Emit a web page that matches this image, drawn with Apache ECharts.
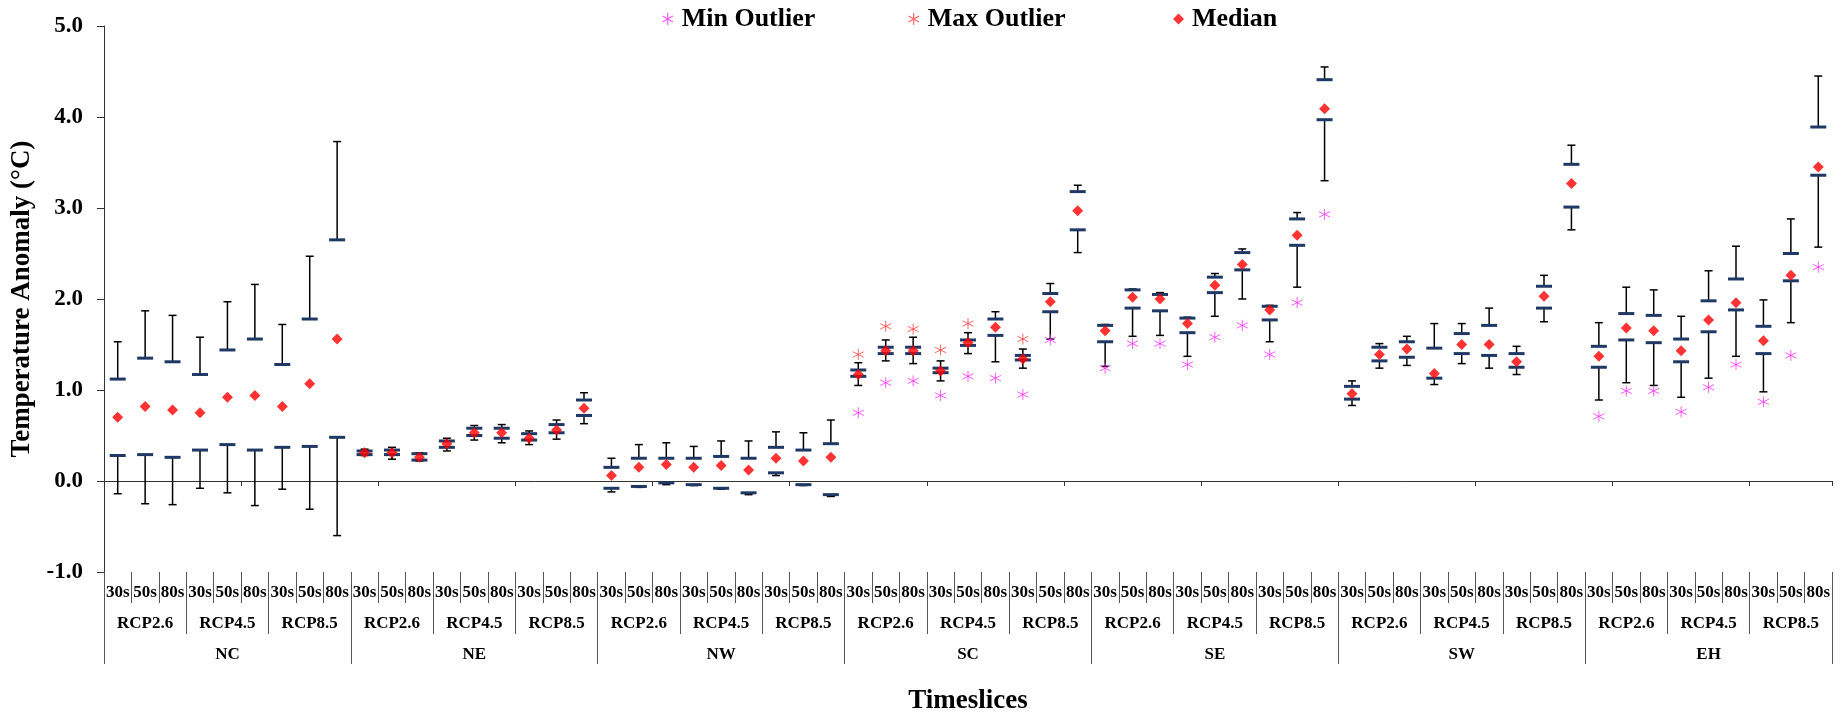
<!DOCTYPE html>
<html><head><meta charset="utf-8">
<script src="https://cdn.jsdelivr.net/npm/echarts@6/dist/echarts.min.js"></script>
<style>html,body{margin:0;padding:0;background:#fff}#c{width:1848px;height:720px}</style>
</head><body><div id="c"></div>
<script>
// ---- categories ----
const regions = ['NC','NE','NW','SC','SE','SW','EH'];
const rcps = ['RCP2.6','RCP4.5','RCP8.5'];
const slices = ['30s','50s','80s'];

// ---- values (order: region > RCP > timeslice) ----
const whiskerHigh = [
  1.53,1.87,1.82, 1.58,1.97,2.16, 1.72,2.47,3.73,   // NC
  0.35,0.37,0.31, 0.47,0.61,0.62, 0.55,0.67,0.97,   // NE
  0.25,0.40,0.42, 0.38,0.44,0.44, 0.54,0.53,0.67,   // NW
  1.30,1.55,1.58, 1.32,1.63,1.86, 1.45,2.17,3.25,   // SC
  1.72,2.11,2.07, 1.80,2.28,2.55, 1.93,2.95,4.55,   // SE
  1.10,1.51,1.59, 1.73,1.73,1.90, 1.48,2.26,3.69,   // SW
  1.74,2.13,2.10, 1.81,2.31,2.58, 1.99,2.88,4.45    // EH
];
const upperQuartile = [
  1.12,1.35,1.31, 1.17,1.44,1.56, 1.28,1.78,2.65,
  0.33,0.34,0.30, 0.44,0.58,0.58, 0.52,0.62,0.89,
  0.15,0.25,0.25, 0.25,0.27,0.25, 0.37,0.34,0.41,
  1.22,1.47,1.47, 1.24,1.55,1.78, 1.38,2.06,3.18,
  1.71,2.10,2.05, 1.79,2.24,2.51, 1.92,2.88,4.41,
  1.04,1.47,1.53, 1.46,1.62,1.71, 1.40,2.14,3.48,
  1.48,1.84,1.82, 1.56,1.98,2.22, 1.70,2.50,3.89
];
const medians = [
  0.70,0.82,0.78, 0.75,0.92,0.94, 0.82,1.07,1.56,
  0.31,0.31,0.26, 0.41,0.53,0.53, 0.47,0.56,0.80,
  0.06,0.15,0.18, 0.15,0.17,0.12, 0.25,0.22,0.26,
  1.17,1.43,1.43, 1.21,1.52,1.69, 1.34,1.97,2.97,
  1.65,2.02,2.00, 1.73,2.15,2.38, 1.88,2.70,4.09,
  0.96,1.39,1.45, 1.18,1.50,1.50, 1.31,2.03,3.27,
  1.37,1.68,1.65, 1.43,1.77,1.96, 1.54,2.26,3.45
];
const lowerQuartile = [
  0.28,0.29,0.26, 0.34,0.40,0.34, 0.37,0.38,0.48,
  0.29,0.29,0.23, 0.37,0.50,0.47, 0.45,0.53,0.72,
  -0.08,-0.06,-0.02, -0.04,-0.08,-0.13, 0.09,-0.04,-0.15,
  1.15,1.40,1.40, 1.19,1.49,1.60, 1.33,1.86,2.76,
  1.53,1.90,1.87, 1.63,2.07,2.32, 1.77,2.59,3.97,
  0.90,1.32,1.36, 1.13,1.40,1.38, 1.25,1.90,3.01,
  1.25,1.55,1.52, 1.31,1.64,1.88, 1.40,2.20,3.36
];
const whiskerLow = [
  -0.14,-0.25,-0.26, -0.08,-0.13,-0.27, -0.09,-0.31,-0.60,
  0.28,0.24,0.22, 0.33,0.45,0.42, 0.40,0.46,0.63,
  -0.12,-0.07,-0.04, -0.05,-0.09,-0.15, 0.06,-0.05,-0.17,
  1.05,1.32,1.29, 1.10,1.40,1.31, 1.24,1.56,2.51,
  1.26,1.59,1.60, 1.37,1.81,2.00, 1.53,2.13,3.30,
  0.83,1.24,1.27, 1.06,1.29,1.24, 1.17,1.75,2.76,
  0.89,1.08,1.05, 0.92,1.13,1.37, 0.98,1.74,2.57
];
const minOutlier = [
  null,null,null, null,null,null, null,null,null,
  null,null,null, null,null,null, null,null,null,
  null,null,null, null,null,null, null,null,null,
  0.75,1.08,1.10, 0.94,1.15,1.13, 0.95,1.55,null,
  1.24,1.51,1.51, 1.28,1.58,1.71, 1.39,1.96,2.93,
  null,null,null, null,null,null, null,null,null,
  0.71,0.99,0.99, 0.76,1.03,1.28, 0.87,1.38,2.35
];
const maxOutlier = [
  null,null,null, null,null,null, null,null,null,
  null,null,null, null,null,null, null,null,null,
  null,null,null, null,null,null, null,null,null,
  1.39,1.70,1.67, 1.44,1.73,null, 1.56,null,null,
  null,null,null, null,null,null, null,null,null,
  null,null,null, null,null,null, null,null,null,
  null,null,null, null,null,null, null,null,null
];

// ---- build category lists ----
const categories = [], sliceLabels = [], rcpLabels = [];
regions.forEach(r => rcps.forEach(p => { rcpLabels.push(p); slices.forEach(s => { categories.push(r + ' ' + p + ' ' + s); sliceLabels.push(s); }); }));

const FONT = "'Liberation Serif','Times New Roman',serif";
const AST = 'path://M5,0L5,10M0.67,2.5L9.33,7.5M0.67,7.5L9.33,2.5';
const NAVY = '#1F3864';

const boxData = categories.map((c, i) => [i, whiskerLow[i], lowerQuartile[i], upperQuartile[i], whiskerHigh[i]]);
const pts = arr => arr.map((v, i) => v == null ? null : [i, v]).filter(d => d);

function renderBox(params, api) {
  const i = api.value(0);
  const pLo = api.coord([i, api.value(1)]);
  const pQ1 = api.coord([i, api.value(2)]);
  const pQ3 = api.coord([i, api.value(3)]);
  const pHi = api.coord([i, api.value(4)]);
  const x = pQ1[0], cap = 4, dash = 8;
  const ls = {stroke: '#000', lineWidth: 1.5};
  const ds = {stroke: NAVY, lineWidth: 3};
  return {type: 'group', children: [
    {type: 'line', shape: {x1: x, y1: pHi[1], x2: x, y2: pQ3[1]}, style: ls},
    {type: 'line', shape: {x1: x - cap, y1: pHi[1], x2: x + cap, y2: pHi[1]}, style: ls},
    {type: 'line', shape: {x1: x, y1: pQ1[1], x2: x, y2: pLo[1]}, style: ls},
    {type: 'line', shape: {x1: x - cap, y1: pLo[1], x2: x + cap, y2: pLo[1]}, style: ls},
    {type: 'line', shape: {x1: x - dash, y1: pQ3[1], x2: x + dash, y2: pQ3[1]}, style: ds},
    {type: 'line', shape: {x1: x - dash, y1: pQ1[1], x2: x + dash, y2: pQ1[1]}, style: ds}
  ]};
}

const legendText = {fontFamily: FONT, fontWeight: 'bold', fontSize: 26, color: '#000', padding: [0, 0, 0, 3]};
const sepColor = '#555';
const rowAxis = (data, tickLen, margin, name) => ({
  type: 'category', data: data, position: 'bottom', offset: 0,
  axisLine: {show: false, onZero: false},
  axisTick: {show: true, length: tickLen, lineStyle: {color: sepColor, width: 1}},
  axisLabel: {interval: 0, margin: margin, fontFamily: FONT, fontWeight: 'bold', fontSize: 17, color: '#000'},
  splitLine: {show: false},
  name: name || '', nameLocation: 'middle', nameGap: 116,
  nameTextStyle: {fontFamily: FONT, fontWeight: 'bold', fontSize: 27, color: '#000'}
});

const chart = echarts.init(document.getElementById('c'), null, {renderer: 'canvas'});
chart.setOption({
  animation: false,
  backgroundColor: '#fff',
  grid: {left: 104, right: 16, top: 26, bottom: 143},
  legend: [
    {left: 660, top: 6, padding: 0, itemWidth: 12, itemHeight: 12, textStyle: legendText,
     data: [{name: 'Min Outlier', icon: AST, itemStyle: {color: 'none', borderColor: '#FF33FF', borderWidth: 1.2}}]},
    {left: 906, top: 6, padding: 0, itemWidth: 12, itemHeight: 12, textStyle: legendText,
     data: [{name: 'Max Outlier', icon: AST, itemStyle: {color: 'none', borderColor: '#FF4040', borderWidth: 1.2}}]},
    {left: 1173, top: 6, padding: 0, itemWidth: 11, itemHeight: 11, textStyle: legendText,
     data: [{name: 'Median', icon: 'diamond', itemStyle: {color: '#FF0000'}}]}
  ],
  xAxis: [
    {type: 'category', data: categories, position: 'bottom',
     axisLine: {onZero: true, lineStyle: {color: '#333', width: 1}},
     axisTick: {show: true, length: 5, lineStyle: {color: '#333'}},
     axisLabel: {show: false}, splitLine: {show: false}},
    rowAxis(sliceLabels, 31, 12),
    rowAxis(rcpLabels, 62, 43),
    rowAxis(regions, 92, 74, 'Timeslices')
  ],
  yAxis: {
    type: 'value', min: -1, max: 5, interval: 1,
    axisLine: {show: true, onZero: false, lineStyle: {color: '#333', width: 1}},
    axisTick: {show: true, length: 7, lineStyle: {color: '#333'}},
    axisLabel: {margin: 21, formatter: v => v.toFixed(1), fontFamily: FONT, fontWeight: 'bold', fontSize: 23, color: '#000'},
    splitLine: {show: false},
    name: 'Temperature Anomaly (°C)', nameLocation: 'middle', nameRotate: 90, nameGap: 58,
    nameTextStyle: {fontFamily: FONT, fontWeight: 'bold', fontSize: 27, color: '#000'}
  },
  series: [
    {name: 'box', type: 'custom', renderItem: renderBox, data: boxData,
     encode: {x: 0, y: [1, 2, 3, 4]}, z: 2},
    {name: 'Median', type: 'scatter', data: pts(medians), symbol: 'diamond', symbolSize: 11,
     itemStyle: {color: '#FF0000'}, z: 4},
    {name: 'Min Outlier', type: 'scatter', data: pts(minOutlier), symbol: AST, symbolSize: 11,
     itemStyle: {color: 'none', borderColor: '#FF33FF', borderWidth: 1}, z: 3},
    {name: 'Max Outlier', type: 'scatter', data: pts(maxOutlier), symbol: AST, symbolSize: 11,
     itemStyle: {color: 'none', borderColor: '#FF4040', borderWidth: 1}, z: 3}
  ]
});
</script>
</body></html>
